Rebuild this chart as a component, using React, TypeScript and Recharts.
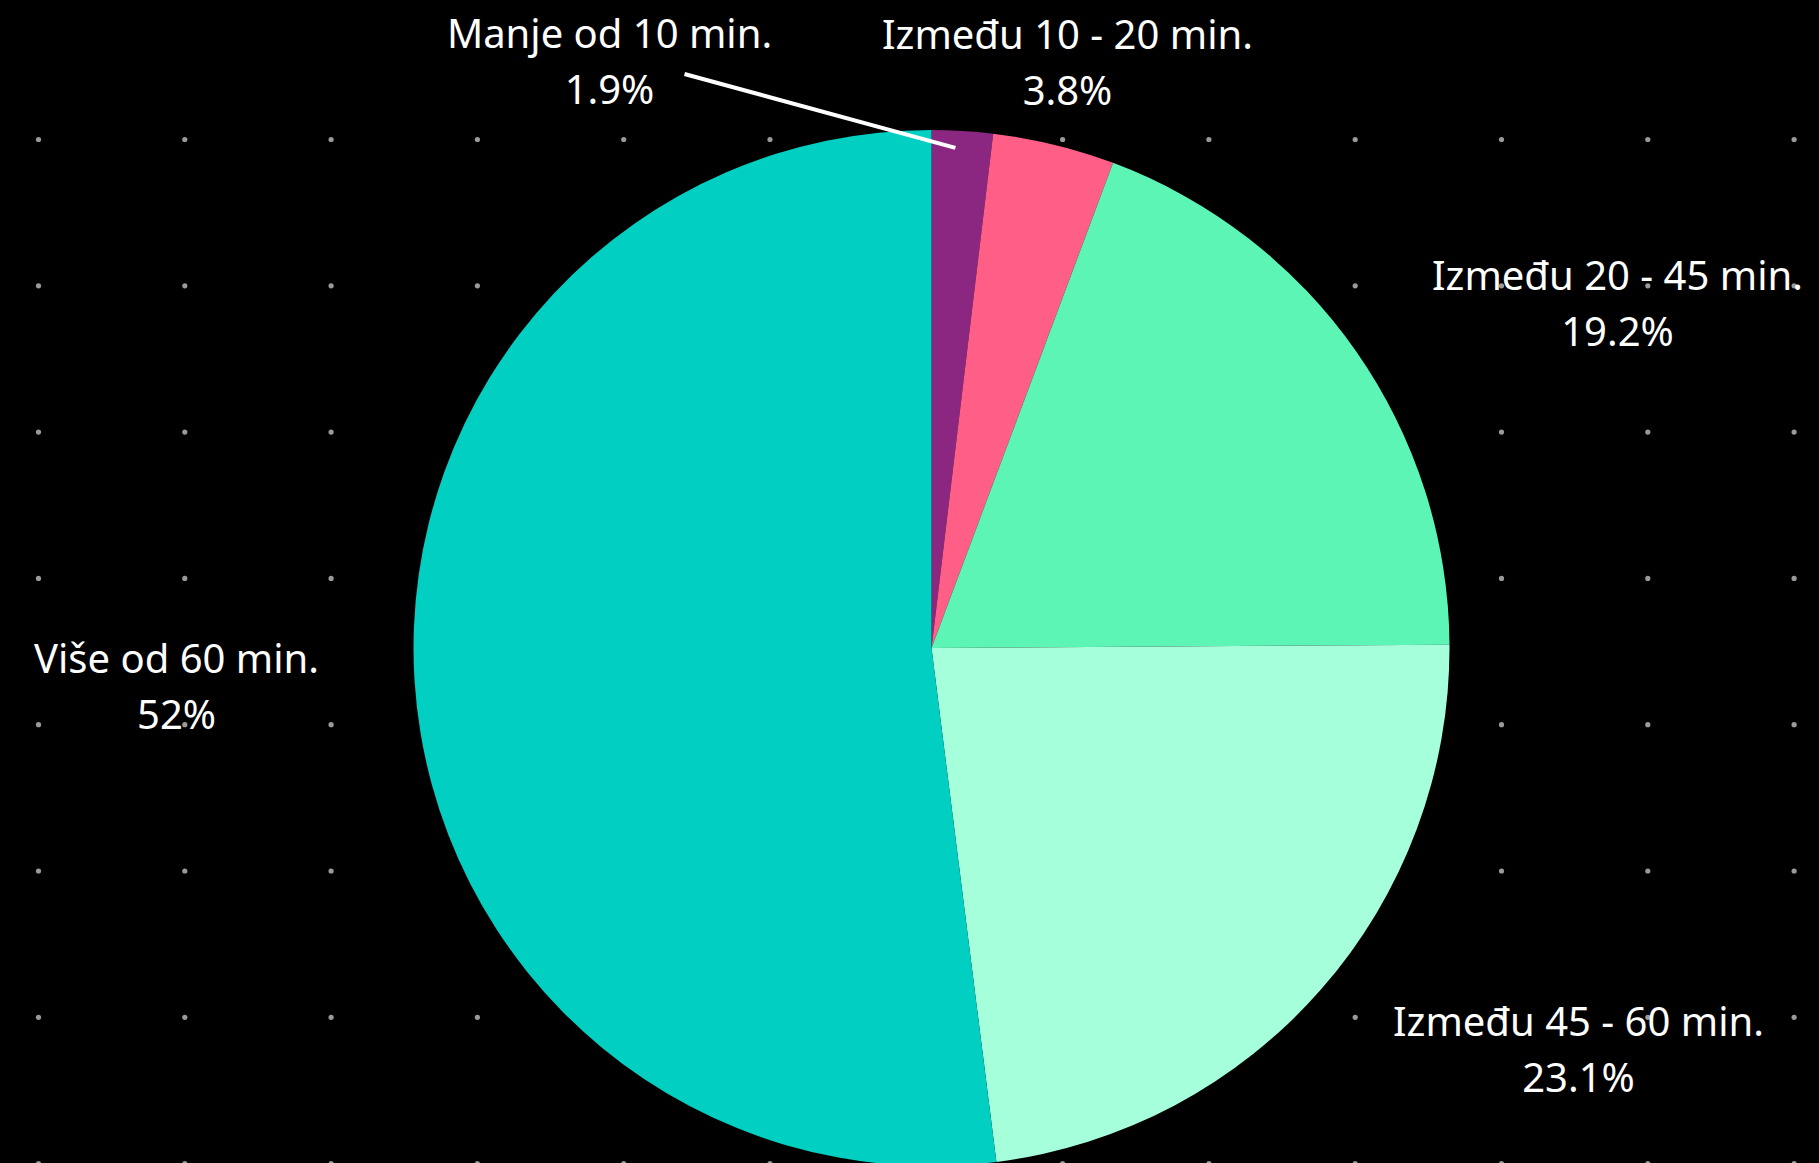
import { PieChart, Pie, Cell, Customized } from 'recharts'

// kategorije i udjeli (%)
const categories = [
  'Manje od 10 min.',
  'Između 10 - 20 min.',
  'Između 20 - 45 min.',
  'Između 45 - 60 min.',
  'Više od 60 min.',
]
const shares = [1.9, 3.8, 19.2, 23.1, 52]
const shareLabels = ['1.9%', '3.8%', '19.2%', '23.1%', '52%']
const colors = ['#8B2780', '#FF5F86', '#5DF5B6', '#A6FFDB', '#00CFC1']

const data = categories.map((name, i) => ({ name, value: shares[i], pct: shareLabels[i] }))

const W = 1819
const H = 1163
const CX = 931.5
const CY = 648
const R = 518

// pomak sredine natpisa od središta pite
const labelOffsets: [number, number][] = [
  [-322, -588],
  [136, -587],
  [686, -346],
  [647, 400],
  [-755, 37],
]
const LINE_GAP = 56
const FONT = '"Noto Sans", "Open Sans", sans-serif'

const renderText = (props: any) => {
  const { cx, cy, index } = props
  const [dx, dy] = labelOffsets[index]
  const x = cx + dx
  const y = cy + dy
  return (
    <g key={`t-${index}`}>
      <text x={x} y={y - LINE_GAP / 2} fill="#fff" textAnchor="middle" dominantBaseline="central" fontSize={40} fontFamily={FONT}>
        {data[index].name}
      </text>
      <text x={x} y={y + LINE_GAP / 2} fill="#fff" textAnchor="middle" dominantBaseline="central" fontSize={40} fontFamily={FONT}>
        {data[index].pct}
      </text>
    </g>
  )
}

// linija samo za najmanji isječak
const renderLeader = (props: any) => {
  const { cx, cy, midAngle, outerRadius, index } = props
  if (index !== 0) return <g key={`l-${index}`} />
  const rad = (Math.PI / 180) * midAngle
  const sx = cx + (outerRadius - 17) * Math.cos(rad) - 6
  const sy = cy - (outerRadius - 17) * Math.sin(rad)
  const [dx, dy] = labelOffsets[index]
  return (
    <line key={`l-${index}`} x1={sx} y1={sy} x2={cx + dx + 75} y2={cy + dy + 14} stroke="#fff" strokeWidth={4} />
  )
}

// točkasta pozadina
const Dots = () => {
  const pts = []
  for (let i = 0; i < 13; i++) {
    for (let j = 0; j < 8; j++) {
      pts.push(<circle key={`${i}-${j}`} cx={38.5 + i * 146.3} cy={139.5 + j * 146.3} r={2.6} fill="#9a9a9a" />)
    }
  }
  return <g>{pts}</g>
}

export default function App() {
  return (
    <div style={{ position: 'absolute', left: 0, top: 0, width: W, height: H, background: '#000', overflow: 'hidden' }}>
      <PieChart width={W} height={H} margin={{ top: 0, right: 0, bottom: 0, left: 0 }}>
        <Pie
          data={data}
          dataKey="value"
          cx={CX}
          cy={CY}
          outerRadius={R}
          startAngle={90}
          endAngle={-270}
          stroke="none"
          label={renderText}
          labelLine={false}
          isAnimationActive={false}
        >
          {data.map((_, i) => (
            <Cell key={i} fill="transparent" />
          ))}
        </Pie>
        <Customized component={Dots} />
        <Pie
          data={data}
          dataKey="value"
          cx={CX}
          cy={CY}
          outerRadius={R}
          startAngle={90}
          endAngle={-270}
          stroke="none"
          label={renderLeader}
          labelLine={false}
          isAnimationActive={false}
        >
          {data.map((_, i) => (
            <Cell key={i} fill={colors[i]} />
          ))}
        </Pie>
      </PieChart>
    </div>
  )
}
